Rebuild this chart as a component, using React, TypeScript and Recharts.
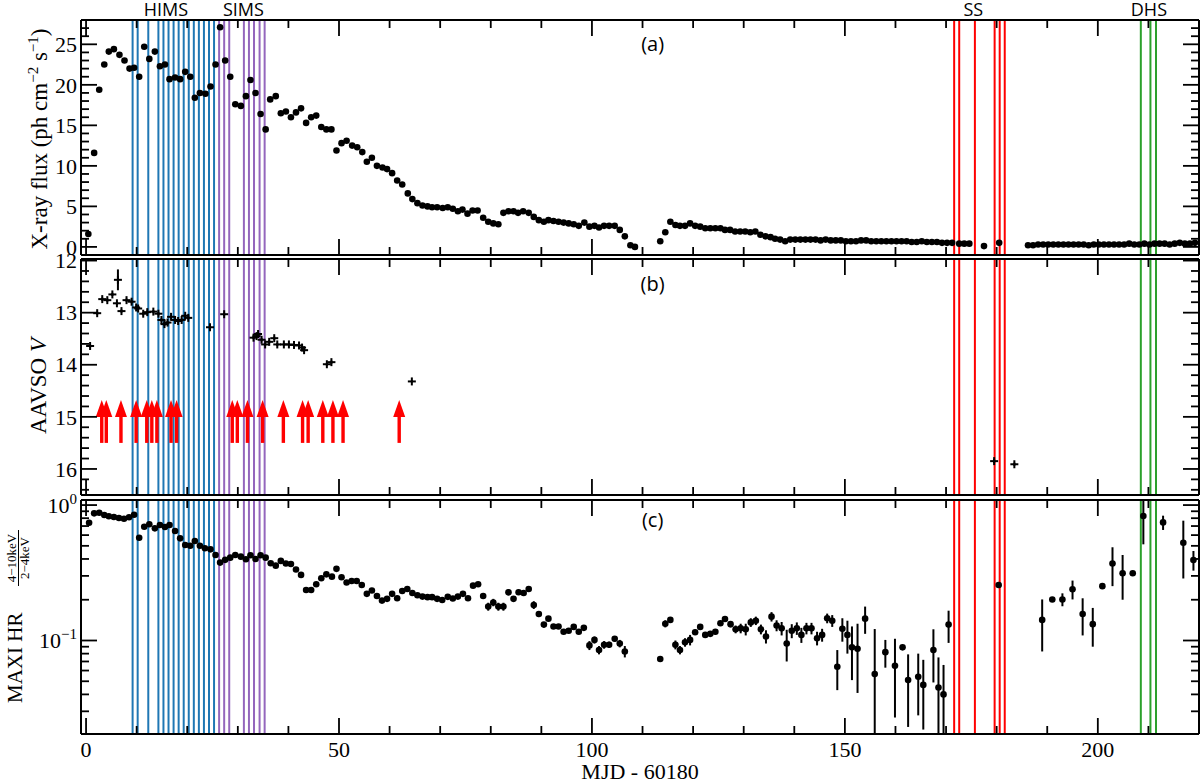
import React from 'react';
import { ComposedChart, Scatter, XAxis, YAxis, ReferenceLine, ReferenceDot, ErrorBar, Label } from 'recharts';

const W = 1200;
const H = 782;
const SERIF = '"Liberation Serif", "Times New Roman", serif';
const SANS = '"Open Sans", "DejaVu Sans", sans-serif';

// spectral-state epochs (MJD - 60180)
const himsDays = [9.2, 10.2, 12.3, 14.3, 15.3, 16.3, 17.3, 18.3, 19.3, 20.3, 21.3, 22.3, 23.3, 24.3, 25.3];
const simsDays = [26.3, 27.3, 28.3, 31.2, 32.2, 33.2, 34.3, 35.3];
const ssDays = [171.6, 172.6, 175.7, 179.6, 180.6, 181.6];
const dhsDays = [208.5, 210.4, 211.5];

const stateLabels: [string, number][] = [
  ['HIMS', 15.8],
  ['SIMS', 31.1],
  ['SS', 175.4],
  ['DHS', 210.1],
];

// (a) X-ray flux, [day, flux]
const flux: [number, number][] = [
  [0.45, 1.6], [1.6, 11.6], [2.6, 19.4], [3.6, 22.5], [4.5, 24.1], [5.5, 24.4], [6.6, 23.7], [7.6, 23.0],
  [8.6, 22.0], [9.5, 22.1], [10.5, 21.0], [11.5, 24.7], [12.5, 23.2], [13.6, 24.1], [14.6, 22.3], [15.6, 22.5],
  [16.5, 20.7], [17.6, 20.9], [18.6, 20.7], [19.6, 21.6], [20.6, 21.0], [21.5, 18.4], [22.5, 19.0], [23.6, 18.9],
  [24.6, 19.8], [25.6, 22.5], [26.5, 27.1], [27.5, 23.0], [28.5, 21.0], [29.5, 17.6], [30.6, 17.4], [31.6, 18.6],
  [32.5, 20.6], [33.5, 19.0], [34.5, 16.4], [35.5, 14.5], [36.4, 18.2], [37.5, 18.6], [38.5, 16.5], [39.5, 16.7],
  [40.5, 16.0], [41.5, 16.6], [42.5, 17.1], [43.5, 15.3], [44.5, 16.0], [45.5, 16.2], [46.5, 14.8], [47.5, 14.5],
  [48.5, 14.5], [49.5, 11.9], [50.5, 12.8], [51.5, 13.1], [52.6, 12.5], [53.6, 12.3], [54.6, 11.7], [55.5, 10.5],
  [56.5, 11.0], [57.5, 10.0], [58.6, 9.8], [59.5, 9.6], [60.5, 9.1], [61.5, 8.2], [62.5, 7.7], [63.6, 6.6],
  [64.5, 5.9], [65.5, 5.4], [66.5, 5.1], [67.5, 5.0], [68.4, 4.9], [69.4, 4.9], [70.5, 4.8], [71.5, 4.9],
  [72.5, 4.7], [73.5, 4.4], [74.4, 4.6], [75.4, 4.1], [76.4, 4.5], [77.4, 4.5], [78.5, 3.6], [79.5, 3.1],
  [80.5, 2.9], [81.5, 2.8], [82.5, 4.2], [83.5, 4.4], [84.5, 4.4], [85.4, 4.2], [86.4, 4.4], [87.5, 4.2],
  [88.5, 3.7], [89.5, 3.3], [90.5, 3.1], [91.4, 3.3], [92.4, 3.2], [93.4, 3.1], [94.4, 3.0], [95.4, 2.9],
  [96.4, 2.8], [97.4, 2.6], [98.5, 3.0], [99.5, 2.5], [100.5, 2.6], [101.4, 2.4], [102.4, 2.6], [103.4, 2.6],
  [104.5, 2.6], [105.5, 2.1], [106.5, 1.3], [107.6, 0.2], [108.5, 0.0], [113.5, 0.7], [114.5, 1.8], [115.5, 3.1],
  [116.5, 2.7], [117.4, 2.6], [118.4, 2.6], [119.4, 2.9], [120.4, 2.6], [121.4, 2.5], [122.4, 2.3], [123.4, 2.3],
  [124.4, 2.3], [125.4, 2.3], [126.3, 2.1], [127.3, 2.1], [128.3, 1.9], [129.3, 1.9], [130.3, 1.9], [131.3, 1.8],
  [132.3, 1.9], [133.3, 1.5], [134.3, 1.3], [135.3, 1.2], [136.2, 1.0], [137.2, 0.9], [138.2, 0.7], [139.2, 0.9],
  [140.2, 0.9], [141.2, 0.9], [142.2, 0.9], [143.2, 0.9], [144.2, 0.9], [145.2, 0.8], [146.2, 0.9], [147.2, 0.8],
  [148.2, 0.8], [149.2, 0.8], [150.2, 0.7], [151.2, 0.7], [152.2, 0.7], [153.2, 0.8], [154.2, 0.8], [155.2, 0.7],
  [156.2, 0.7], [157.2, 0.7], [158.2, 0.7], [159.2, 0.7], [160.2, 0.7], [161.2, 0.7], [162.2, 0.7], [163.2, 0.6],
  [164.2, 0.6], [165.2, 0.7], [166.2, 0.6], [167.2, 0.6], [168.2, 0.6], [169.2, 0.5], [170.2, 0.5], [171.2, 0.5],
  [172.6, 0.4], [173.6, 0.4], [174.6, 0.4], [177.5, 0.1], [180.5, 0.5], [186.2, 0.2], [187.2, 0.2], [188.2, 0.3],
  [189.2, 0.3], [190.2, 0.3], [191.2, 0.3], [192.2, 0.3], [193.2, 0.3], [194.2, 0.3], [195.2, 0.3], [196.2, 0.3],
  [197.2, 0.3], [198.2, 0.2], [199.2, 0.3], [200.2, 0.3], [201.2, 0.3], [202.2, 0.3], [203.2, 0.3], [204.2, 0.3],
  [205.2, 0.3], [206.2, 0.4], [207.2, 0.3], [208.2, 0.3], [209.2, 0.4], [210.2, 0.3], [211.2, 0.4], [212.2, 0.4],
  [213.2, 0.4], [214.2, 0.3], [215.2, 0.4], [216.2, 0.5], [217.2, 0.4], [218.2, 0.4], [219.2, 0.5],
];

// (b) AAVSO V magnitudes, [day, mag, err]
const vMag: [number, number, number][] = [
  [0.8, 13.64, 0.03], [2.2, 13.01, 0.03], [3.2, 12.74, 0.03], [4.2, 12.76, 0.03], [5.2, 12.65, 0.03],
  [6.1, 12.82, 0.03], [6.3, 12.37, 0.2], [7.0, 12.97, 0.03], [8.0, 12.76, 0.03], [9.0, 12.79, 0.03],
  [9.9, 12.9, 0.03], [10.3, 12.92, 0.03], [11.3, 13.02, 0.03], [12.1, 12.99, 0.03], [13.3, 12.98, 0.03],
  [14.3, 13.02, 0.03], [14.9, 13.14, 0.03], [15.5, 13.22, 0.04], [16.1, 13.19, 0.03], [16.8, 13.08, 0.03],
  [17.6, 13.14, 0.03], [18.2, 13.16, 0.03], [18.9, 13.14, 0.03], [19.6, 13.06, 0.03], [20.2, 13.1, 0.03],
  [24.5, 13.28, 0.03], [27.3, 13.03, 0.03], [33.1, 13.48, 0.03], [33.7, 13.45, 0.03], [34.0, 13.41, 0.03],
  [34.7, 13.52, 0.03], [35.4, 13.61, 0.03], [36.2, 13.56, 0.03], [37.2, 13.49, 0.03], [37.8, 13.61, 0.03],
  [39.1, 13.61, 0.03], [40.1, 13.61, 0.03], [41.1, 13.62, 0.03], [42.1, 13.63, 0.03], [42.7, 13.67, 0.03],
  [43.1, 13.72, 0.03], [47.6, 13.99, 0.03], [48.5, 13.95, 0.03], [64.4, 14.32, 0.02], [179.5, 15.85, 0.04],
  [183.5, 15.91, 0.03],
];

// (b) upper limits (arrows), day of each limit and its magnitude
const limitDays = [3.1, 4.0, 6.9, 9.9, 12.0, 13.0, 14.0, 16.8, 17.9, 28.9, 29.9, 31.9, 34.9, 39.0, 42.8, 43.9, 46.8, 48.8, 50.8, 61.9];
const limitMag = 15.5;

// (c) MAXI hardness ratio, [day, HR, err]
const hardness: [number, number, number][] = [
  [0.6, 0.741, 0.01], [1.6, 0.869, 0.01], [2.6, 0.878, 0.01], [3.6, 0.844, 0.01], [4.5, 0.826, 0.01],
  [5.5, 0.816, 0.01], [6.5, 0.802, 0.01], [7.5, 0.793, 0.01], [8.5, 0.812, 0.01], [9.5, 0.849, 0.01],
  [10.5, 0.574, 0.01], [11.5, 0.692, 0.01], [12.5, 0.721, 0.01], [13.6, 0.673, 0.01], [14.6, 0.712, 0.01],
  [15.6, 0.689, 0.01], [16.5, 0.712, 0.01], [17.6, 0.643, 0.01], [18.6, 0.568, 0.01], [19.6, 0.507, 0.01],
  [20.6, 0.501, 0.01], [21.5, 0.543, 0.01], [22.5, 0.501, 0.01], [23.5, 0.48, 0.01], [24.6, 0.471, 0.01],
  [25.6, 0.428, 0.01], [26.5, 0.376, 0.01], [27.5, 0.394, 0.01], [28.5, 0.409, 0.01], [29.5, 0.428, 0.01],
  [30.6, 0.416, 0.01], [31.6, 0.398, 0.01], [32.5, 0.426, 0.01], [33.5, 0.4, 0.01], [34.5, 0.426, 0.01],
  [35.5, 0.409, 0.01], [36.5, 0.372, 0.01], [37.5, 0.357, 0.01], [38.5, 0.387, 0.01], [39.5, 0.37, 0.01],
  [40.5, 0.367, 0.01], [41.5, 0.334, 0.01], [42.5, 0.305, 0.01], [43.5, 0.236, 0.005], [44.5, 0.236, 0.005],
  [45.5, 0.26, 0.005], [46.5, 0.288, 0.005], [47.5, 0.308, 0.005], [48.6, 0.296, 0.005], [49.5, 0.338, 0.005],
  [50.5, 0.293, 0.005], [51.5, 0.268, 0.005], [52.5, 0.275, 0.005], [53.5, 0.275, 0.005], [54.5, 0.257, 0.005],
  [55.5, 0.221, 0.005], [56.5, 0.234, 0.005], [57.5, 0.213, 0.005], [58.5, 0.197, 0.005], [59.5, 0.203, 0.005],
  [60.5, 0.221, 0.005], [61.5, 0.205, 0.005], [62.5, 0.232, 0.005], [63.5, 0.24, 0.005], [64.5, 0.224, 0.005],
  [65.5, 0.216, 0.005], [66.5, 0.211, 0.005], [67.5, 0.209, 0.005], [68.4, 0.209, 0.005], [69.4, 0.203, 0.005],
  [70.4, 0.199, 0.005], [71.5, 0.21, 0.005], [72.5, 0.204, 0.005], [73.5, 0.211, 0.005], [74.5, 0.221, 0.005],
  [75.5, 0.205, 0.005], [76.5, 0.254, 0.005], [77.5, 0.26, 0.005], [78.5, 0.213, 0.005], [79.5, 0.178, 0.012],
  [80.5, 0.191, 0.012], [81.5, 0.178, 0.012], [82.5, 0.178, 0.012], [83.5, 0.227, 0.012], [84.5, 0.203, 0.01],
  [85.5, 0.227, 0.01], [86.5, 0.224, 0.008], [87.5, 0.24, 0.006], [88.5, 0.183, 0.012], [89.5, 0.157, 0.008],
  [90.5, 0.131, 0.006], [91.4, 0.145, 0.005], [92.4, 0.127, 0.004], [93.4, 0.127, 0.004], [94.4, 0.116, 0.004],
  [95.4, 0.118, 0.004], [96.4, 0.126, 0.004], [97.4, 0.116, 0.004], [98.4, 0.124, 0.006], [99.5, 0.092, 0.007],
  [100.5, 0.101, 0.006], [101.4, 0.085, 0.006], [102.4, 0.093, 0.006], [103.4, 0.093, 0.005], [104.5, 0.103, 0.005],
  [105.5, 0.095, 0.006], [106.5, 0.083, 0.008], [113.5, 0.073, 0.002], [114.5, 0.133, 0.008], [115.5, 0.142, 0.004],
  [116.5, 0.093, 0.007], [117.4, 0.085, 0.006], [118.4, 0.097, 0.007], [119.4, 0.101, 0.009], [120.4, 0.115, 0.005],
  [121.4, 0.126, 0.005], [122.4, 0.11, 0.005], [123.4, 0.112, 0.005], [124.4, 0.116, 0.005], [125.4, 0.134, 0.006],
  [126.3, 0.144, 0.006], [127.4, 0.132, 0.007], [128.4, 0.121, 0.008], [129.4, 0.123, 0.01], [130.4, 0.121, 0.012],
  [131.4, 0.136, 0.01], [132.4, 0.14, 0.01], [133.4, 0.121, 0.01], [134.4, 0.107, 0.012], [135.5, 0.15, 0.012],
  [136.5, 0.129, 0.012], [137.5, 0.123, 0.014], [138.5, 0.095, 0.025], [139.5, 0.118, 0.014], [140.5, 0.123, 0.013],
  [141.4, 0.11, 0.014], [142.4, 0.123, 0.012], [143.4, 0.123, 0.012], [144.5, 0.104, 0.012], [145.5, 0.11, 0.012],
  [146.5, 0.146, 0.012], [147.5, 0.14, 0.014], [148.5, 0.064, 0.021], [149.5, 0.122, 0.024], [150.5, 0.11, 0.03],
  [151.4, 0.089, 0.038], [152.5, 0.087, 0.046], [154.0, 0.145, 0.033], [155.9, 0.0565, 0.065], [158.0, 0.082, 0.019],
  [159.9, 0.065, 0.038], [161.4, 0.089, 0.0], [162.5, 0.051, 0.028], [164.5, 0.054, 0.026], [165.5, 0.047, 0.025],
  [167.5, 0.085, 0.036], [168.5, 0.045, 0.03], [169.5, 0.04, 0.026], [170.5, 0.131, 0.035], [180.4, 0.257, 0.0],
  [189.0, 0.142, 0.059], [191.0, 0.201, 0.0], [193.0, 0.201, 0.022], [195.0, 0.239, 0.038], [197.0, 0.157, 0.048],
  [199.0, 0.132, 0.042], [200.9, 0.252, 0.0], [202.9, 0.37, 0.118], [204.9, 0.314, 0.114], [206.9, 0.314, 0.0],
  [209.0, 0.83, 0.317], [212.9, 0.745, 0.09], [216.9, 0.527, 0.24], [218.9, 0.393, 0.065],
];

const xTicks = [0, 10, 20, 30, 40, 50, 60, 70, 80, 90, 100, 110, 120, 130, 140, 150, 160, 170, 180, 190, 200, 210];
const xMajor = [0, 50, 100, 150, 200];
const fluxTicks = [0, 1, 2, 3, 4, 5, 6, 7, 8, 9, 10, 11, 12, 13, 14, 15, 16, 17, 18, 19, 20, 21, 22, 23, 24, 25, 26, 27];
const fluxMajor = [0, 5, 10, 15, 20, 25];
const magTicks = [12, 12.2, 12.4, 12.6, 12.8, 13, 13.2, 13.4, 13.6, 13.8, 14, 14.2, 14.4, 14.6, 14.8, 15, 15.2, 15.4, 15.6, 15.8, 16, 16.2, 16.4];
const magMajor = [12, 13, 14, 15, 16];
const hrTicks = [0.03, 0.04, 0.05, 0.06, 0.07, 0.08, 0.09, 0.1, 0.2, 0.3, 0.4, 0.5, 0.6, 0.7, 0.8, 0.9, 1];
const hrMajor = [0.1, 1];

const X_DOMAIN = [-1, 220];
const FLUX_DOMAIN = [-1, 28];
const MAG_DOMAIN = [11.97, 16.5];
const HR_MIN = 0.0204;
const HR_MAX = 1.09;

const fluxData = flux.map(([x, y]) => ({ x, y }));
const vData = vMag.map(([x, y, err]) => ({ x, y, err }));
const limitData = limitDays.map((x) => ({ x, y: limitMag }));
// error bars are cut at the frame (the log axis cannot take negative lower ends)
const hrData = hardness.map(([x, y, err]) => ({
  x,
  y,
  err: [Math.min(err, y - HR_MIN), Math.min(err, HR_MAX - y)],
}));

type Side = 'left' | 'right' | 'top' | 'bottom';

function tickRenderer(side: Side, majors: number[], label?: (v: number) => React.ReactNode) {
  return (props: any) => {
    const { x, y, payload } = props;
    const v = payload.value;
    const major = majors.some((m) => Math.abs(m - v) < 1e-6);
    const len = major ? 16 : 8;
    let d: number[];
    if (side === 'left') d = [x, y, x + len, y];
    else if (side === 'right') d = [x, y, x - len, y];
    else if (side === 'top') d = [x, y, x, y + len];
    else d = [x, y, x, y - len];
    let text: React.ReactNode = null;
    if (major && label) {
      text =
        side === 'left' ? (
          <text x={x - 4} y={y} dy="0.35em" textAnchor="end" fontFamily={SERIF} fontSize={22} fill="#000">
            {label(v)}
          </text>
        ) : (
          <text x={x} y={y + 23} textAnchor="middle" fontFamily={SERIF} fontSize={22} fill="#000">
            {label(v)}
          </text>
        );
    }
    return (
      <g>
        <line x1={d[0]} y1={d[1]} x2={d[2]} y2={d[3]} stroke="#000" strokeWidth={1.8} />
        {text}
      </g>
    );
  };
}

const frame = { stroke: '#000', strokeWidth: 2 };

const dot = (p: any) => <circle cx={p.cx} cy={p.cy} r={3.3} fill="#000" />;

const plus = (p: any) => (
  <g stroke="#000" strokeWidth={2}>
    <line x1={p.cx - 4} y1={p.cy} x2={p.cx + 4} y2={p.cy} />
    <line x1={p.cx} y1={p.cy - 4} x2={p.cx} y2={p.cy + 4} />
  </g>
);

const arrow = (p: any) => (
  <g fill="#ff0000">
    <rect x={p.cx - 1.7} y={p.cy - 27} width={3.4} height={27} />
    <polygon points={`${p.cx - 6},${p.cy - 26} ${p.cx + 6},${p.cy - 26} ${p.cx},${p.cy - 43}`} />
  </g>
);

function stateLines() {
  const groups: [number[], string][] = [
    [himsDays, '#1f77b4'],
    [simsDays, '#9467bd'],
    [ssDays, '#ff0000'],
    [dhsDays, '#2ca02c'],
  ];
  return groups.flatMap(([days, color]) =>
    days.map((d) => <ReferenceLine key={`${color}-${d}`} x={d} stroke={color} strokeWidth={2} ifOverflow="hidden" />),
  );
}

const layer: React.CSSProperties = { position: 'absolute', left: 0, top: 0 };

// plot frame in page pixels: left 81, right 1199; each axis is 1px thick
function panelMargin(top: number, bottom: number) {
  return { top: top - 1, bottom: H - bottom - 1, left: 80, right: 0 };
}

function axesX(labels: boolean) {
  return [
    <XAxis key="xb" type="number" dataKey="x" domain={X_DOMAIN} allowDataOverflow ticks={xTicks} interval={0} height={1} tickSize={0} tickMargin={0} tickLine={false} axisLine={frame} tick={tickRenderer('bottom', xMajor, labels ? (v) => String(v) : undefined)} />,
    <XAxis key="xt" xAxisId="top" orientation="top" type="number" dataKey="x" domain={X_DOMAIN} allowDataOverflow ticks={xTicks} interval={0} height={1} tickSize={0} tickMargin={0} tickLine={false} axisLine={frame} tick={tickRenderer('top', xMajor)} />,
  ];
}

function FluxPanel() {
  return (
    <div style={layer}>
      <ComposedChart width={W} height={H} margin={panelMargin(20, 255)}>
        {axesX(false)}
        <YAxis type="number" dataKey="y" domain={FLUX_DOMAIN} allowDataOverflow ticks={fluxTicks} interval={0} width={1} tickSize={0} tickMargin={0} tickLine={false} axisLine={frame} tick={tickRenderer('left', fluxMajor, (v) => String(v))}>
          <Label
            content={() => (
              <text transform="translate(47,139) rotate(-90)" textAnchor="middle" fontFamily={SERIF} fontSize={23} fill="#000">
                X-ray flux (ph cm<tspan dy={-9} fontSize={15}>−2</tspan>
                <tspan dy={9}> s</tspan>
                <tspan dy={-9} fontSize={15}>−1</tspan>
                <tspan dy={9}>)</tspan>
              </text>
            )}
          />
        </YAxis>
        <YAxis yAxisId="right" orientation="right" type="number" domain={FLUX_DOMAIN} allowDataOverflow ticks={fluxTicks} interval={0} width={1} tickSize={0} tickMargin={0} tickLine={false} axisLine={frame} tick={tickRenderer('right', fluxMajor)} />
        {stateLines()}
        {stateLabels.map(([name, day]) => (
          <ReferenceDot key={name} x={day} y={28} r={0} fill="none" stroke="none" ifOverflow="visible" label={{ value: name, position: 'top', offset: 4, fontFamily: SANS, fontSize: 18, fill: '#000' }} />
        ))}
        <ReferenceDot x={112} y={25} r={0} fill="none" stroke="none" label={{ value: '(a)', position: 'center', fontFamily: SANS, fontSize: 20, fill: '#000' }} />
        <Scatter data={fluxData} shape={dot} isAnimationActive={false} />
      </ComposedChart>
    </div>
  );
}

function MagPanel() {
  return (
    <div style={layer}>
      <ComposedChart width={W} height={H} margin={panelMargin(259, 495)}>
        {axesX(false)}
        <YAxis type="number" dataKey="y" reversed domain={MAG_DOMAIN} allowDataOverflow ticks={magTicks} interval={0} width={1} tickSize={0} tickMargin={0} tickLine={false} axisLine={frame} tick={tickRenderer('left', magMajor, (v) => String(v))}>
          <Label
            content={() => (
              <text transform="translate(46,386) rotate(-90)" textAnchor="middle" fontFamily={SERIF} fontSize={23} fill="#000">
                AAVSO <tspan fontStyle="italic">V</tspan>
              </text>
            )}
          />
        </YAxis>
        <YAxis yAxisId="right" orientation="right" type="number" reversed domain={MAG_DOMAIN} allowDataOverflow ticks={magTicks} interval={0} width={1} tickSize={0} tickMargin={0} tickLine={false} axisLine={frame} tick={tickRenderer('right', magMajor)} />
        {stateLines()}
        <ReferenceDot x={112} y={12.45} r={0} fill="none" stroke="none" label={{ value: '(b)', position: 'center', fontFamily: SANS, fontSize: 20, fill: '#000' }} />
        <Scatter data={vData} shape={plus} isAnimationActive={false}>
          <ErrorBar dataKey="err" direction="y" width={0} stroke="#000" strokeWidth={2} />
        </Scatter>
        <Scatter data={limitData} shape={arrow} isAnimationActive={false} />
      </ComposedChart>
    </div>
  );
}

const hrLabel = (v: number) =>
  v === 1 ? (
    <>
      10<tspan dy={-9} fontSize={15}>0</tspan>
    </>
  ) : (
    <>
      10<tspan dy={-9} fontSize={15}>−1</tspan>
    </>
  );

function HardnessPanel() {
  return (
    <div style={layer}>
      <ComposedChart width={W} height={H} margin={panelMargin(500, 734)}>
        {axesX(true)}
        <YAxis type="number" dataKey="y" scale="log" domain={[HR_MIN, HR_MAX]} allowDataOverflow ticks={hrTicks} interval={0} width={1} tickSize={0} tickMargin={0} tickLine={false} axisLine={frame} tick={tickRenderer('left', hrMajor, hrLabel)}>
          <Label
            content={() => (
              <g fontFamily={SERIF} fill="#000">
                <text x={640} y={779} textAnchor="middle" fontSize={22}>
                  MJD - 60180
                </text>
                <g transform="translate(22,703) rotate(-90)">
                  <text x={0} y={0} fontSize={21}>MAXI HR</text>
                  <text x={145} y={-6} textAnchor="middle" fontSize={13}>4−10keV</text>
                  <line x1={117} x2={173} y1={-3.5} y2={-3.5} stroke="#000" strokeWidth={1} />
                  <text x={145} y={7} textAnchor="middle" fontSize={13}>2−4keV</text>
                </g>
              </g>
            )}
          />
        </YAxis>
        <YAxis yAxisId="right" orientation="right" type="number" scale="log" domain={[HR_MIN, HR_MAX]} allowDataOverflow ticks={hrTicks} interval={0} width={1} tickSize={0} tickMargin={0} tickLine={false} axisLine={frame} tick={tickRenderer('right', hrMajor)} />
        {stateLines()}
        <ReferenceDot x={112} y={0.775} r={0} fill="none" stroke="none" label={{ value: '(c)', position: 'center', fontFamily: SANS, fontSize: 20, fill: '#000' }} />
        <Scatter data={hrData} shape={dot} isAnimationActive={false}>
          <ErrorBar dataKey="err" direction="y" width={0} stroke="#000" strokeWidth={2} />
        </Scatter>
      </ComposedChart>
    </div>
  );
}

export default function App() {
  return (
    <div style={{ position: 'absolute', left: 0, top: 0, width: W, height: H, background: '#fff', overflow: 'hidden' }}>
      <FluxPanel />
      <MagPanel />
      <HardnessPanel />
    </div>
  );
}
